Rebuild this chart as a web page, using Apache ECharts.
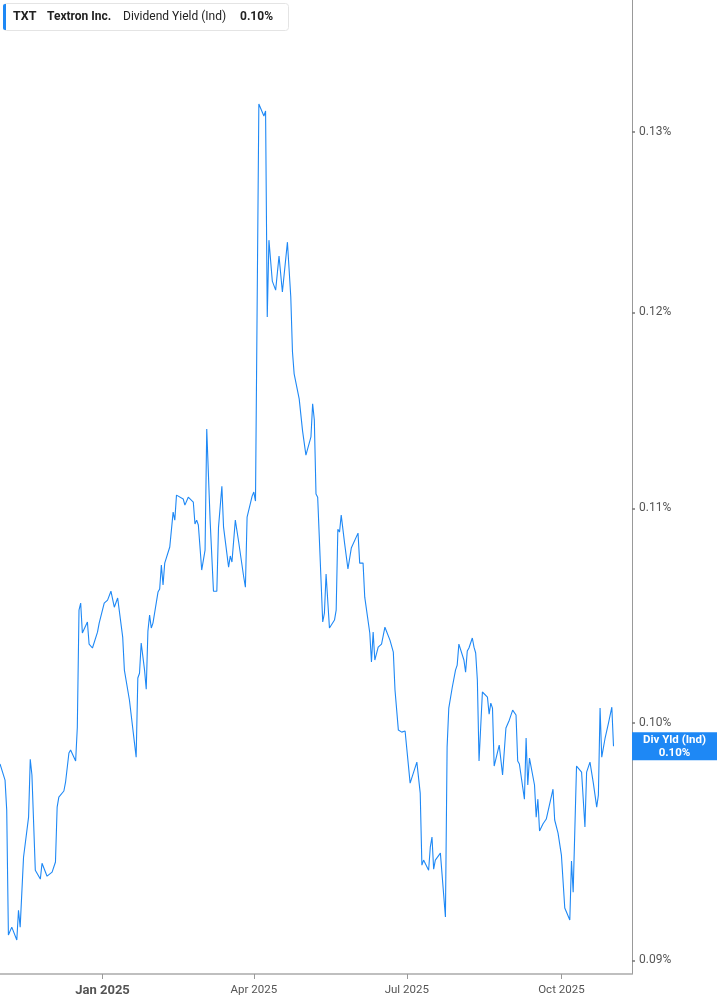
<!DOCTYPE html>
<html>
<head>
<meta charset="utf-8">
<title>TXT Dividend Yield</title>
<script src="https://cdn.jsdelivr.net/npm/echarts@6/dist/echarts.min.js"></script>
<style>
html, body { margin: 0; padding: 0; background: #fff; }
#chart { width: 717px; height: 1005px; }
</style>
</head>
<body>
<div id="chart"></div>
<script>
// trading dates
var dates = [
  '2024-11-01','2024-11-04','2024-11-05','2024-11-06','2024-11-07','2024-11-08','2024-11-11','2024-11-12','2024-11-13','2024-11-15',
  '2024-11-18','2024-11-19','2024-11-20','2024-11-22','2024-11-25','2024-11-26','2024-11-27','2024-11-29','2024-12-02','2024-12-04',
  '2024-12-05','2024-12-06','2024-12-09','2024-12-10','2024-12-11','2024-12-12','2024-12-13','2024-12-16','2024-12-17','2024-12-18',
  '2024-12-19','2024-12-20','2024-12-23','2024-12-24','2024-12-26','2024-12-29','2024-12-30','2024-12-31','2025-01-02','2025-01-04',
  '2025-01-06','2025-01-08','2025-01-10','2025-01-13','2025-01-14','2025-01-17','2025-01-21','2025-01-22','2025-01-23','2025-01-24',
  '2025-01-26','2025-01-27','2025-01-28','2025-01-29','2025-01-30','2025-01-31','2025-02-03','2025-02-04','2025-02-05','2025-02-06',
  '2025-02-07','2025-02-10','2025-02-11','2025-02-12','2025-02-13','2025-02-14','2025-02-18','2025-02-19','2025-02-21','2025-02-24',
  '2025-02-25','2025-02-26','2025-02-27','2025-03-01','2025-03-03','2025-03-04','2025-03-06','2025-03-08','2025-03-10','2025-03-11',
  '2025-03-13','2025-03-14','2025-03-17','2025-03-18','2025-03-19','2025-03-21','2025-03-23','2025-03-26','2025-03-27','2025-03-28',
  '2025-03-31','2025-04-01','2025-04-02','2025-04-04','2025-04-07','2025-04-08','2025-04-09','2025-04-10','2025-04-12','2025-04-14',
  '2025-04-16','2025-04-18','2025-04-21','2025-04-23','2025-04-24','2025-04-25','2025-04-28','2025-04-30','2025-05-01','2025-05-02',
  '2025-05-05','2025-05-06','2025-05-07','2025-05-08','2025-05-09','2025-05-12','2025-05-13','2025-05-14','2025-05-16','2025-05-19',
  '2025-05-20','2025-05-21','2025-05-22','2025-05-23','2025-05-25','2025-05-27','2025-05-29','2025-05-30','2025-06-02','2025-06-03',
  '2025-06-05','2025-06-06','2025-06-09','2025-06-10','2025-06-11','2025-06-12','2025-06-14','2025-06-16','2025-06-18','2025-06-21',
  '2025-06-23','2025-06-24','2025-06-26','2025-06-28','2025-06-30','2025-07-03','2025-07-04','2025-07-07','2025-07-09','2025-07-10',
  '2025-07-11','2025-07-14','2025-07-15','2025-07-16','2025-07-17','2025-07-18','2025-07-21','2025-07-24','2025-07-25','2025-07-26',
  '2025-07-28','2025-07-30','2025-07-31','2025-08-01','2025-08-04','2025-08-05','2025-08-06','2025-08-07','2025-08-09','2025-08-10',
  '2025-08-11','2025-08-12','2025-08-13','2025-08-15','2025-08-18','2025-08-19','2025-08-20','2025-08-21','2025-08-22','2025-08-25',
  '2025-08-27','2025-08-29','2025-08-31','2025-09-02','2025-09-04','2025-09-05','2025-09-06','2025-09-09','2025-09-10','2025-09-11',
  '2025-09-12','2025-09-15','2025-09-16','2025-09-17','2025-09-18','2025-09-20','2025-09-22','2025-09-26','2025-09-27','2025-09-29',
  '2025-10-01','2025-10-03','2025-10-06','2025-10-07','2025-10-08','2025-10-10','2025-10-13','2025-10-15','2025-10-16','2025-10-18',
  '2025-10-20','2025-10-22','2025-10-23','2025-10-24','2025-10-25','2025-10-27','2025-10-29','2025-10-30','2025-10-31','2025-11-01'
];

// dividend yield, in percent
var yieldPct = [
  0.09820,0.09750,0.09621,0.09102,0.09102,0.09134,0.09082,0.09203,0.09134,0.09422,
  0.09591,0.09841,0.09772,0.09368,0.09331,0.09397,0.09397,0.09343,0.09360,0.09402,
  0.09634,0.09677,0.09703,0.09741,0.09741,0.09868,0.09881,0.09833,0.09982,0.10514,
  0.10547,0.10408,0.10459,0.10357,0.10339,0.10412,0.10454,0.10459,0.10547,0.10561,
  0.10603,0.10528,0.10571,0.10389,0.10238,0.10103,0.09850,0.10202,0.10224,0.10362,
  0.10238,0.10152,0.10417,0.10491,0.10431,0.10454,0.10599,0.10613,0.10727,0.10632,
  0.10736,0.10813,0.10813,0.10982,0.10943,0.11065,0.11046,0.11016,0.11055,0.11031,
  0.10924,0.10943,0.10919,0.10703,0.10798,0.11394,0.10943,0.10603,0.10603,0.10909,
  0.11109,0.10909,0.10717,0.10770,0.10741,0.10943,0.10837,0.10670,0.10622,0.10958,
  0.11060,0.11080,0.11036,0.13163,0.13093,0.13122,0.11975,0.12391,0.12168,0.12119,
  0.12304,0.12109,0.12380,0.12082,0.11792,0.11677,0.11548,0.11385,0.11390,0.11263,
  0.11355,0.11523,0.11441,0.11070,0.11055,0.10459,0.10500,0.10684,0.10431,0.10468,
  0.10514,0.10899,0.10885,0.10967,0.10832,0.10708,0.10808,0.10803,0.10880,0.10736,
  0.10736,0.10575,0.10408,0.10275,0.10412,0.10284,0.10343,0.10357,0.10435,0.10375,
  0.10320,0.10148,0.09969,0.09960,0.09965,0.09737,0.09729,0.09828,0.09694,0.09389,
  0.09410,0.09368,0.09464,0.09507,0.09372,0.09410,0.09439,0.09175,0.09894,0.10067,
  0.10157,0.10238,0.10261,0.10357,0.10284,0.10229,0.10325,0.10339,0.10385,0.10343,
  0.10316,0.10193,0.09833,0.10139,0.10116,0.10040,0.10089,0.10067,0.09811,0.09903,
  0.09772,0.09978,0.10013,0.10058,0.10036,0.09833,0.09820,0.09668,0.09934,0.09729,
  0.09846,0.09729,0.09591,0.09668,0.09532,0.09562,0.09583,0.09711,0.09579,0.09523,
  0.09431,0.09212,0.09163,0.09406,0.09277,0.09811,0.09785,0.09549,0.09785,0.09828,
  0.09737,0.09634,0.09685,0.10067,0.09850,0.09934,0.10000,0.10000,0.10071,0.09898
];

var yTicks = [0.09, 0.10, 0.11, 0.12, 0.13];
var xTicks = ['2025-01-01', '2025-04-01', '2025-07-01', '2025-10-01'];
var xRange = ['2024-11-01', '2025-11-12'];
var yRange = [0.08946, 0.13785];
var monthNames = ['Jan','Feb','Mar','Apr','May','Jun','Jul','Aug','Sep','Oct','Nov','Dec'];

var blue = '#1e88f5';
var font = 'Roboto, Arial, sans-serif';

function toTime(s) {
    var p = s.split('-');
    return new Date(+p[0], +p[1] - 1, +p[2]).getTime();
}

// the yield scale is logarithmic: the value axis runs on ln(value)
function toLog(v) {
    return Math.log(v);
}

var chartDom = document.getElementById('chart');
var myChart = echarts.init(chartDom);

var seriesData = dates.map(function (d, i) {
    return [toTime(d), toLog(yieldPct[i])];
});
var last = yieldPct[yieldPct.length - 1];

var option = {
    animation: false,
    textStyle: {
        fontFamily: font
    },
    grid: {
        left: 0,
        right: 85,
        top: 0,
        bottom: 31
    },
    xAxis: {
        type: 'value',
        min: toTime(xRange[0]),
        max: toTime(xRange[1]),
        axisLine: { show: true, lineStyle: { color: '#aaaaaa', width: 1.5 } },
        axisTick: {
            show: true,
            length: 5,
            customValues: xTicks.map(toTime),
            lineStyle: { color: '#999999' }
        },
        axisLabel: {
            customValues: xTicks.map(toTime),
            margin: 10,
            color: '#555555',
            fontSize: 11.5,
            formatter: function (v) {
                var d = new Date(v);
                var s = monthNames[d.getMonth()] + ' ' + d.getFullYear();
                return d.getMonth() === 0 ? '{yr|' + s + '}' : s;
            },
            rich: {
                yr: { fontSize: 13, fontWeight: 'bold', color: '#555555' }
            }
        },
        splitLine: { show: false }
    },
    yAxis: {
        type: 'value',
        position: 'right',
        min: toLog(yRange[0]),
        max: toLog(yRange[1]),
        axisLine: { show: true, lineStyle: { color: '#999999', width: 1 } },
        axisTick: {
            show: true,
            length: 3,
            customValues: yTicks.map(toLog),
            lineStyle: { color: '#777777', width: 1.5 }
        },
        axisLabel: {
            customValues: yTicks.map(toLog),
            margin: 7,
            color: '#555555',
            fontSize: 12,
            formatter: function (v) {
                return Math.exp(v).toFixed(2) + '%';
            }
        },
        splitLine: { show: false }
    },
    series: [{
        name: 'Div Yld (Ind)',
        type: 'line',
        data: seriesData,
        showSymbol: false,
        symbol: 'none',
        lineStyle: { color: blue, width: 1.1 }
    }]
};

myChart.setOption(option);

// header box and current value tag on the right axis
var tagY = myChart.convertToPixel({ yAxisIndex: 0 }, toLog(last));
var axisX = myChart.convertToPixel({ xAxisIndex: 0 }, toTime(xRange[1]));
var tagMid = axisX + (717 - axisX) / 2;

myChart.setOption({
    graphic: [
        {
            id: 'hdrBox', type: 'rect', z: 100,
            shape: { x: 3.5, y: 3.5, width: 285, height: 27, r: 3 },
            style: { fill: '#ffffff', stroke: '#e4e4e4', lineWidth: 1 }
        },
        {
            id: 'hdrBar', type: 'rect', z: 101,
            shape: { x: 3, y: 4, width: 3, height: 26, r: [2, 0, 0, 2] },
            style: { fill: blue }
        },
        {
            id: 'hdrTicker', type: 'text', x: 13, y: 17, z: 101,
            style: { text: 'TXT', fill: '#222222', font: 'bold 12.5px ' + font, textVerticalAlign: 'middle' }
        },
        {
            id: 'hdrName', type: 'text', x: 47, y: 17, z: 101,
            style: { text: 'Textron Inc.', fill: '#222222', font: 'bold 12px ' + font, textVerticalAlign: 'middle' }
        },
        {
            id: 'hdrMetric', type: 'text', x: 123, y: 17, z: 101,
            style: { text: 'Dividend Yield (Ind)', fill: '#222222', font: '12px ' + font, textVerticalAlign: 'middle' }
        },
        {
            id: 'hdrValue', type: 'text', x: 240, y: 17, z: 101,
            style: { text: last.toFixed(2) + '%', fill: '#222222', font: 'bold 12px ' + font, textVerticalAlign: 'middle' }
        },
        {
            id: 'tagBox', type: 'rect', z: 100,
            shape: { x: axisX, y: tagY - 14, width: 717 - axisX, height: 28 },
            style: { fill: blue }
        },
        {
            id: 'tagName', type: 'text', x: tagMid, y: tagY - 6.5, z: 101,
            style: { text: 'Div Yld (Ind)', fill: '#ffffff', font: 'bold 11.5px ' + font, textAlign: 'center', textVerticalAlign: 'middle' }
        },
        {
            id: 'tagValue', type: 'text', x: tagMid, y: tagY + 6.5, z: 101,
            style: { text: last.toFixed(2) + '%', fill: '#ffffff', font: 'bold 11.5px ' + font, textAlign: 'center', textVerticalAlign: 'middle' }
        }
    ]
});

window.addEventListener('resize', function () {
    myChart.resize();
});
</script>
</body>
</html>
